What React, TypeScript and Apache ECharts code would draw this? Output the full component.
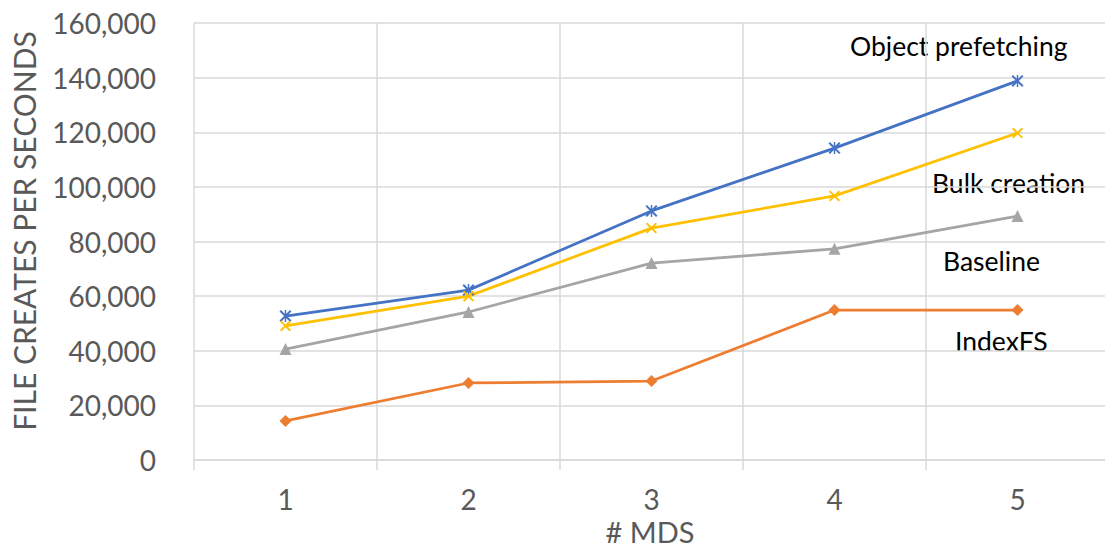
import React, { useEffect, useRef } from "react";
import * as echarts from "echarts";

const categories = ["1", "2", "3", "4", "5"];
const objectPrefetching = [52700, 62200, 91200, 114200, 138800];
const bulkCreation = [49100, 60000, 84900, 96700, 119700];
const baseline = [40600, 54200, 72100, 77300, 89300];
const indexFS = [14300, 28200, 28900, 54900, 54900];
const seriesNames = ["Object prefetching", "Bulk creation", "Baseline", "IndexFS"];
const yTicks = { min: 0, max: 160000, interval: 20000 };

const FONT = "Lato";

const asteriskPath =
  "path://M0,1.2L1.2,0L10,8.8L8.8,10Z M8.8,0L10,1.2L1.2,10L0,8.8Z M4.4,0L5.6,0L5.6,10L4.4,10Z";
const crossPath = "path://M0,1.2L1.2,0L10,8.8L8.8,10Z M8.8,0L10,1.2L1.2,10L0,8.8Z";

export default function App() {
  const ref = useRef<HTMLDivElement>(null);
  useEffect(() => {
    if (!ref.current) return;
    const chart = echarts.init(ref.current, undefined, { renderer: "svg" });
    const mk = (name: string, data: number[], color: string, symbol: string, size: number) => ({
      name,
      type: "line",
      data,
      symbol,
      symbolSize: size,
      lineStyle: { color, width: 2.75 },
      itemStyle: { color },
      z: 3,
    });
    const annot = (text: string, x: number, y: number) => ({
      type: "text",
      x,
      y,
      style: { text, fill: "#000", fontSize: 26.5, fontFamily: FONT, align: "left", verticalAlign: "middle" },
    });
    chart.setOption({
      animation: false,
      backgroundColor: "#ffffff",
      grid: {
        left: 194,
        top: 23,
        width: 915,
        bottom: 88,
        containLabel: false,
        outerBoundsMode: "none",
      },
      xAxis: {
        type: "category",
        data: categories,
        boundaryGap: true,
        axisLine: { show: true, lineStyle: { color: "#d9d9d9", width: 1.5 } },
        axisTick: { show: true, length: 10, lineStyle: { color: "#d9d9d9", width: 1.5 } },
        splitLine: { show: true, lineStyle: { color: "#d9d9d9", width: 1.5 } },
        axisLabel: { color: "#595959", fontSize: 28, lineHeight: 24, fontFamily: FONT, margin: 27 },
      },
      yAxis: {
        type: "value",
        min: yTicks.min,
        max: yTicks.max,
        interval: yTicks.interval,
        axisLine: { show: false },
        axisTick: { show: false },
        splitLine: { show: true, lineStyle: { color: "#d9d9d9", width: 1.5 } },
        axisLabel: {
          color: "#595959",
          fontSize: 28,
          fontFamily: FONT,
          margin: 38,
          formatter: (v: number) => v.toLocaleString("en-US"),
        },
      },
      series: [
        mk(seriesNames[0], objectPrefetching, "#4472C4", asteriskPath, 12),
        mk(seriesNames[1], bulkCreation, "#FFC000", crossPath, 11),
        mk(seriesNames[2], baseline, "#A5A5A5", "triangle", 12),
        mk(seriesNames[3], indexFS, "#ED7D31", "diamond", 12),
      ],
      graphic: [
        {
          type: "text",
          x: 24,
          y: 231,
          rotation: Math.PI / 2,
          style: {
            text: "FILE CREATES PER SECONDS",
            fill: "#595959",
            fontSize: 30,
            fontFamily: FONT,
            align: "center",
            verticalAlign: "middle",
          },
        },
        {
          type: "text",
          x: 650,
          y: 531,
          style: {
            text: "# MDS",
            fill: "#595959",
            fontSize: 29,
            lineHeight: 26,
            fontFamily: FONT,
            align: "center",
            verticalAlign: "middle",
          },
        },
        annot(seriesNames[0], 850, 46),
        annot(seriesNames[1], 932, 183),
        annot(seriesNames[2], 943, 261),
        annot(seriesNames[3], 955, 341),
      ],
    });
    return () => chart.dispose();
  }, []);
  return (
    <div
      ref={ref}
      style={{ position: "fixed", left: 0, top: 0, width: 1105, height: 548, background: "#fff" }}
    />
  );
}
